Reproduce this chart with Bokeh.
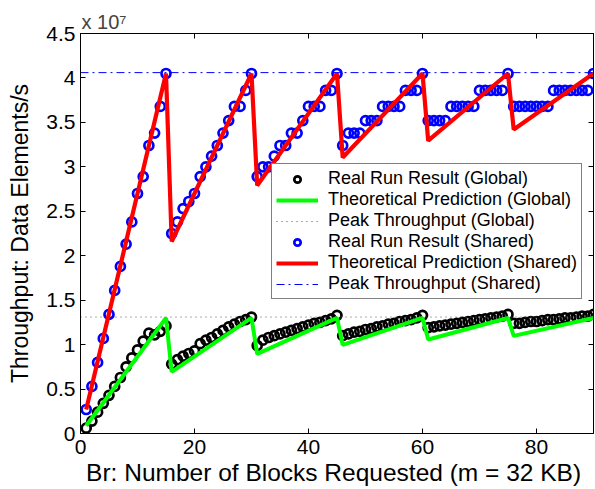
from bokeh.plotting import figure
from bokeh.models import LinearAxis, FixedTicker, Legend, LegendItem, Range1d
from bokeh.embed import file_html
from bokeh.resources import INLINE

# ---------------- data (throughput in units of 1e7 elements/s) ----------------
blocks = list(range(1, 91))

shared_real = [
    0.27, 0.53, 0.80, 1.07, 1.34, 1.61, 1.88, 2.13, 2.38, 2.70, 2.89, 3.24, 3.38, 3.68, 4.05,
    2.25, 2.38, 2.53, 2.61, 2.70, 2.89, 3.00, 3.12, 3.24, 3.38, 3.52, 3.68, 3.68, 3.86, 4.05,
    2.89, 3.00, 3.00, 3.12, 3.24, 3.24, 3.38, 3.38, 3.52, 3.68, 3.68, 3.68, 3.86, 3.86, 4.05,
    3.24, 3.38, 3.38, 3.38, 3.52, 3.52, 3.52, 3.68, 3.68, 3.68, 3.68, 3.86, 3.86, 3.86, 4.05,
    3.52, 3.52, 3.52, 3.52, 3.68, 3.68, 3.68, 3.68, 3.68, 3.86, 3.86, 3.86, 3.86, 3.86, 4.05,
    3.68, 3.68, 3.68, 3.68, 3.68, 3.68, 3.68, 3.86, 3.86, 3.86, 3.86, 3.86, 3.86, 3.86, 4.05,
]

global_real = [
    0.06, 0.14, 0.24, 0.34, 0.43, 0.53, 0.63, 0.75, 0.85, 0.94, 1.04, 1.13, 1.11, 1.15, 1.21,
    0.78, 0.83, 0.87, 0.90, 0.93, 1.01, 1.05, 1.08, 1.12, 1.16, 1.20, 1.23, 1.26, 1.28, 1.31,
    0.99, 1.05, 1.08, 1.10, 1.12, 1.14, 1.16, 1.18, 1.20, 1.22, 1.24, 1.25, 1.27, 1.29, 1.33,
    1.10, 1.12, 1.14, 1.15, 1.17, 1.18, 1.20, 1.21, 1.23, 1.24, 1.26, 1.27, 1.28, 1.30, 1.33,
    1.19, 1.20, 1.21, 1.22, 1.23, 1.24, 1.25, 1.26, 1.27, 1.28, 1.29, 1.30, 1.31, 1.32, 1.34,
    1.24, 1.24, 1.25, 1.26, 1.26, 1.27, 1.28, 1.28, 1.29, 1.30, 1.30, 1.31, 1.32, 1.32, 1.34,
]

theory_blocks = [1, 15, 16, 30, 31, 45, 46, 60, 61, 75, 76, 90]
shared_theory = [0.27, 4.05, 2.16, 4.05, 2.79, 4.05, 3.105, 4.05, 3.294, 4.05, 3.42, 4.05]
global_theory = [0.087, 1.30, 0.693, 1.30, 0.896, 1.30, 0.997, 1.30, 1.057, 1.30, 1.098, 1.30]

peak_blocks = [0, 90]
peak_shared = [4.06, 4.06]
peak_global = [1.31, 1.31]

x_ticks = [0, 20, 40, 60, 80]
y_ticks = [0, 0.5, 1, 1.5, 2, 2.5, 3, 3.5, 4, 4.5]
y_tick_labels = ["0", "0.5", "1", "1.5", "2", "2.5", "3", "3.5", "4", "4.5"]

legend_labels = [
    "Real Run Result (Global)",
    "Theoretical Prediction (Global)",
    "Peak Throughput (Global)",
    "Real Run Result (Shared)",
    "Theoretical Prediction (Shared)",
    "Peak Throughput (Shared)",
]

FONT = "Liberation Sans"

p = figure(width=595, height=489, output_backend="svg", toolbar_location=None,
           x_range=Range1d(0, 90), y_range=Range1d(0, 4.5),
           min_border_left=80, min_border_right=2, min_border_top=33, min_border_bottom=56)
p.background_fill_color = "white"
p.border_fill_color = "white"
p.outline_line_color = "black"
p.outline_line_width = 1
p.grid.visible = False

# exponent of the y axis
p.title.text = "x 10\u2077"
p.title.align = "left"
p.title.text_font = FONT
p.title.text_font_size = "20px"
p.title.text_font_style = "normal"
p.title.standoff = 2
p.title.offset = 1

# axes
for ax in (p.xaxis[0], p.yaxis[0]):
    ax.major_tick_in = 5
    ax.major_tick_out = 0
    ax.minor_tick_line_color = None
    ax.axis_line_color = "black"
    ax.major_label_text_font = FONT
    ax.major_label_text_font_size = "21px"
    ax.major_label_text_color = "black"
    ax.axis_label_text_font = FONT
    ax.axis_label_text_font_style = "normal"
    ax.axis_label_text_color = "black"

p.xaxis[0].ticker = FixedTicker(ticks=x_ticks)
p.yaxis[0].ticker = FixedTicker(ticks=y_ticks)
p.yaxis[0].major_label_overrides = {t: s for t, s in zip(y_ticks, y_tick_labels)}
p.xaxis[0].axis_label = "Br: Number of Blocks Requested  (m = 32 KB)"
p.yaxis[0].axis_label = "Throughput: Data Elements/s"
p.xaxis[0].axis_label_text_font_size = "24.5px"
p.yaxis[0].axis_label_text_font_size = "23px"
p.xaxis[0].major_label_standoff = 6
p.xaxis[0].axis_label_standoff = 2
p.yaxis[0].major_label_standoff = 5
p.yaxis[0].axis_label_standoff = 10

# mirrored ticks (box)
top_ax = LinearAxis(ticker=FixedTicker(ticks=x_ticks), major_tick_in=5, major_tick_out=0,
                    minor_tick_line_color=None, major_label_text_font_size="1px",
                    major_label_text_color=None, major_label_standoff=0)
right_ax = LinearAxis(ticker=FixedTicker(ticks=y_ticks), major_tick_in=5, major_tick_out=0,
                      minor_tick_line_color=None, major_label_text_font_size="1px",
                      major_label_text_color=None, major_label_standoff=0)
p.add_layout(top_ax, "above")
p.add_layout(right_ax, "right")

# glyphs
r_greal = p.scatter(blocks, global_real, marker="circle", size=9, fill_color=None,
                    line_color="black", line_width=2.7)
r_gth = p.line(theory_blocks, global_theory, line_color="#00ff00", line_width=4)
r_gpk = p.line(peak_blocks, peak_global, line_color="#555555", line_width=1, line_dash="1 4")
r_sreal = p.scatter(blocks, shared_real, marker="circle", size=9, fill_color=None,
                    line_color="#0000ff", line_width=2.7)
r_sth = p.line(theory_blocks, shared_theory, line_color="#ff0000", line_width=4.2)
r_spk = p.line(peak_blocks, peak_shared, line_color="#0000ff", line_width=1, line_dash="8 4 2 4")

renderers = [r_greal, r_gth, r_gpk, r_sreal, r_sth, r_spk]
legend = Legend(items=[LegendItem(label=l, renderers=[r]) for l, r in zip(legend_labels, renderers)],
                location=(191, 134))
legend.label_text_font = FONT
legend.label_text_font_size = "18px"
legend.label_text_color = "black"
legend.border_line_color = "black"
legend.border_line_width = 1
legend.background_fill_alpha = 1
legend.glyph_width = 42
legend.glyph_height = 16
legend.label_height = 16
legend.spacing = 0
legend.padding = 4
legend.margin = 0
legend.label_standoff = 10
p.add_layout(legend, "center")

open("out.html", "w").write(file_html(p, INLINE))
